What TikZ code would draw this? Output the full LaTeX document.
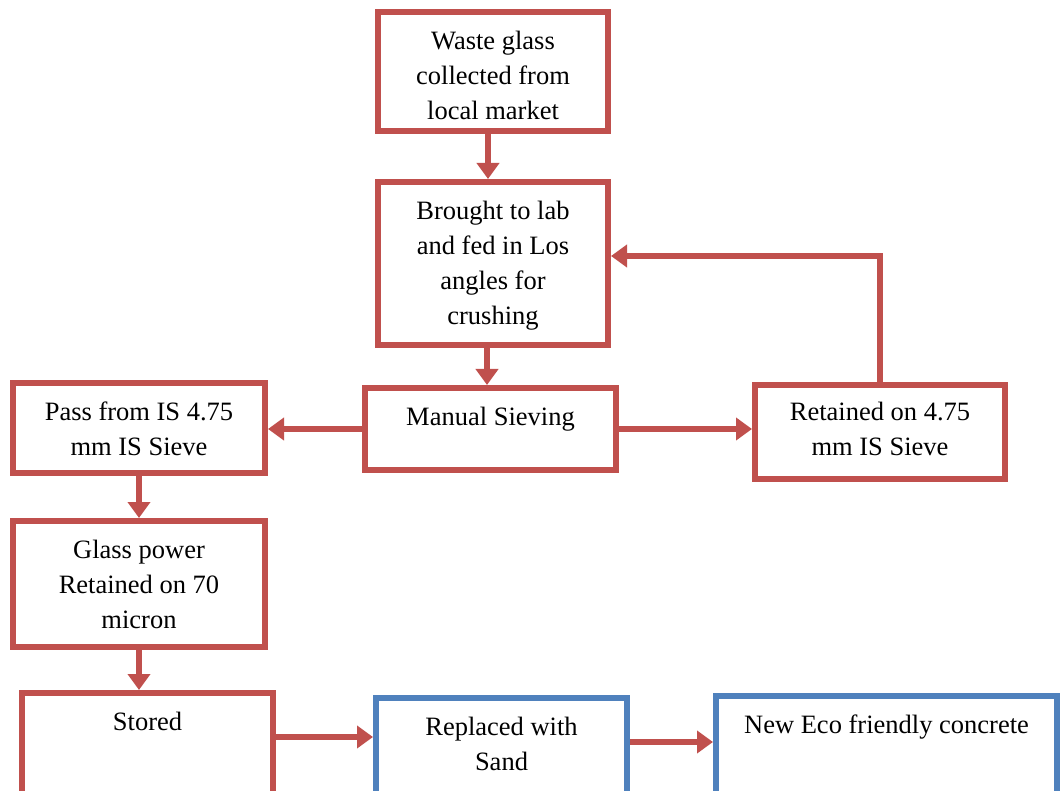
\documentclass[tikz,border=0pt]{standalone}
\usepackage{fontspec}
\setmainfont{Liberation Serif}
\usetikzlibrary{arrows.meta}
\definecolor{boxred}{HTML}{C0504D}
\definecolor{boxblue}{HTML}{4F81BD}

\begin{document}
\begin{tikzpicture}[x=1pt, y=-1pt,
        procbox/.style={draw=boxred, line width=6pt, fill=white, inner sep=0pt},
        endbox/.style={procbox, draw=boxblue},
        txt/.style={anchor=north, align=center, inner sep=0pt, yshift=-22pt,
            font=\fontsize{26.5}{35}\selectfont},
        flow/.style={draw=boxred, line width=6pt, -{Triangle[width=22pt, length=16pt]}}
    ]
    \useasboundingbox (0,0) rectangle (1060,791);
    \clip (0,0) rectangle (1060,791);
    \begin{scope}[shift={(0,0)}]

        % Main column
        \node[procbox, minimum width=230pt, minimum height=119pt,
            label={[txt]north:Waste glass\\collected from\\local market}] (waste) at (493,71.5) {};
        \node[procbox, minimum width=230pt, minimum height=163pt,
            label={[txt]north:Brought to lab\\and fed in Los\\angles for\\crushing}] (lab) at (493,263.5) {};
        \node[procbox, minimum width=251pt, minimum height=82pt,
            label={[txt]north:Manual Sieving}] (sieve) at (490.5,429) {};

        % Sieve outputs
        \node[procbox, minimum width=252pt, minimum height=90pt,
            label={[txt]north:Pass from IS 4.75\\mm IS Sieve}] (pass) at (139,428) {};
        \node[procbox, minimum width=250pt, minimum height=94pt,
            label={[txt, yshift=2pt]north:Retained on 4.75\\mm IS Sieve}] (ret) at (880,432) {};

        % Left column
        \node[procbox, minimum width=252pt, minimum height=126pt,
            label={[txt]north:Glass power\\Retained on 70\\micron}] (glass) at (139,584) {};
        \node[procbox, minimum width=251pt, minimum height=117pt,
            label={[txt]north:Stored}] (stored) at (147.5,751.5) {};

        % Final steps
        \node[endbox, minimum width=251pt, minimum height=112pt,
            label={[txt]north:Replaced with\\Sand}] (repl) at (501.5,754) {};
        \node[endbox, minimum width=341pt, minimum height=114pt,
            label={[txt]north:New Eco friendly concrete}] (eco) at (886.5,753) {};

        % Arrows
        \draw[flow] ([xshift=-5pt]waste.south) -- ([xshift=-5pt]waste.south |- lab.north);
        \draw[flow] ([xshift=-6pt]lab.south) -- ([xshift=-6pt]lab.south |- sieve.north);
        \draw[flow] (sieve.west) -- (sieve.west -| pass.east);
        \draw[flow] (sieve.east) -- (sieve.east -| ret.west);
        \coordinate (back) at (880,256);
        \draw[flow] (ret.north) -- (back) -- (back -| lab.east);
        \draw[flow] (pass.south) -- (glass.north);
        \draw[flow] (glass.south) -- (glass.south |- stored.north);
        \draw[flow] ([yshift=14.5pt]stored.east) -- ([yshift=14.5pt]stored.east -| repl.west);
        \draw[flow] ([yshift=12pt]repl.east) -- ([yshift=12pt]repl.east -| eco.west);

    \end{scope}
\end{tikzpicture}
\end{document}
